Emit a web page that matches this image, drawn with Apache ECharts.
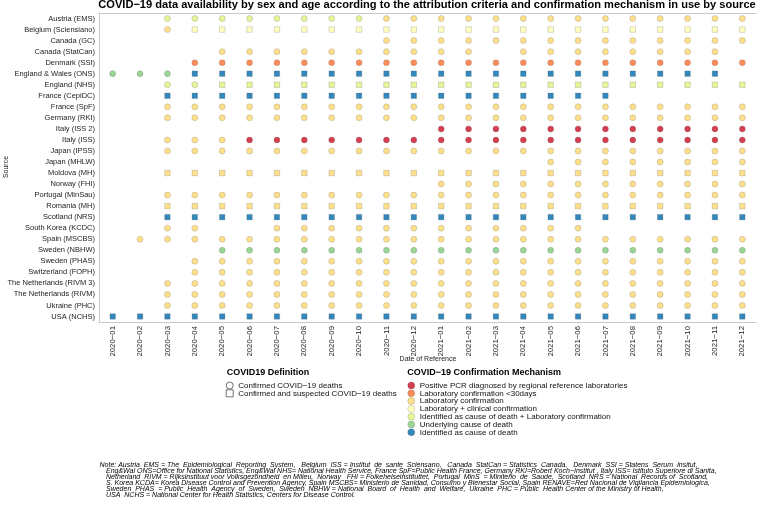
<!DOCTYPE html>
<html><head><meta charset="utf-8">
<script src="https://cdn.jsdelivr.net/npm/echarts@6/dist/echarts.min.js"></script>
<style>html,body{margin:0;padding:0;background:#fff}#c{width:760px;height:505px}</style>
</head><body><div id="c"></div>
<script>
// ---- DATA ----
const months = ['2020-01','2020-02','2020-03','2020-04','2020-05','2020-06','2020-07','2020-08','2020-09','2020-10','2020-11','2020-12',
                '2021-01','2021-02','2021-03','2021-04','2021-05','2021-06','2021-07','2021-08','2021-09','2021-10','2021-11','2021-12'];
const sources = ['Austria (EMS)','Belgium (Sciensiano)','Canada (GC)','Canada (StatCan)','Denmark (SSI)','England & Wales (ONS)',
  'England (NHS)','France (CepiDC)','France (SpF)','Germany (RKI)','Italy (ISS 2)','Italy (ISS)','Japan (IPSS)','Japan (MHLW)',
  'Moldova (MH)','Norway (FHI)','Portugal (MinSau)','Romania (MH)','Scotland (NRS)','South Korea (KCDC)','Spain (MSCBS)',
  'Sweden (NBHW)','Sweden (PHAS)','Switzerland (FOPH)','The Netherlands (RIVM 3)','The Netherlands (RIVM)','Ukraine (PHC)','USA (NCHS)'];
// one character per month: '.' = no data; letter = confirmation mechanism code;
// UPPER case = Confirmed COVID-19 deaths (circle), lower case = Confirmed and suspected (square)
const availability = [
  '..IIIIIIIILLLLLLLLLLLLLL', // Austria (EMS)
  '..Lccccccccccccccccccccc', // Belgium
  '..........LLLLLLLLLLLLLL', // Canada (GC)
  '....LLLLLLLLLL.LLLLLLLL.', // Canada (StatCan)
  '...OOOOOOOOOOOOOOOOOOOOO', // Denmark
  'UUUdddddddddddddddddddd.', // England & Wales
  '..IIiiiiiiiiiiiiiiiiiiii', // England (NHS)
  '..ddddddddddddddddd.....', // France (CepiDC)
  '..LLLLLLLLLLLLLLLLLLLLLL', // France (SpF)
  '..LLLLLLLLLLLLLLLLLLLLLL', // Germany
  '............PPPPPPPPPPPP', // Italy (ISS 2)
  '..LLLPPPPPPPPPPPPPPPPPPP', // Italy (ISS)
  '..LLLLLLLLLLLLLLLLLLLLLL', // Japan (IPSS)
  '................LLLLLLLL', // Japan (MHLW)
  '..llllllllllllllllllllll', // Moldova
  '............LLLLLLLLLLLL', // Norway
  '..LLLLLLLLLLLLLLLLLLLLLL', // Portugal
  '..llllllllllllllllllllll', // Romania
  '..dddddddddddddddddddddd', // Scotland
  '..LL..LLLLLLLLLLLL......', // South Korea
  '.LLLLLLLLLLLLLLLLLLLLLLL', // Spain
  '....UUUUUUUUUUUUUUUUUUUU', // Sweden (NBHW)
  '...LLLLLLLLLLLLLLLLLLLLL', // Sweden (PHAS)
  '...LLLLLLLLLLLLLLLLLLLLL', // Switzerland
  '..LLLLLLLLLLLLLLLLLLLLLL', // Netherlands (RIVM 3)
  '..LLLLLLLLLLLLLLLLLLLLLL', // Netherlands (RIVM)
  '..LLLLLLLLLLLLLLLLLLLLLL', // Ukraine
  'dddddddddddddddddddddddd'  // USA
];
const mechanismCodes = ['P','O','L','C','I','U','D'];
const mechanismNames = ['Positive PCR diagnosed by regional reference laboratories','Laboratory confirmation <30days',
  'Laboratory confirmation','Laboratory + clinical confirmation','Identified as cause of death + Laboratory confirmation',
  'Underlying cause of death','Identified as cause of death'];
const mechanismColors = ['#d53e4f','#fc8d59','#fee08b','#ffffbf','#e6f598','#99d594','#3288bd'];
const definitionNames = ['Confirmed COVID\u221219 deaths','Confirmed and suspected COVID\u221219 deaths'];
const noteLines = [
  'Note: Austria  EMS = The  Epidemiological  Reporting  System,   Belgium  ISS = Institut  de  sante  Sciensano,   Canada  StatCan = Statistics  Canada,   Denmark  SSI = Statens  Serum  Insitut,',
  'Eng&Wal ONS=Office for National Statistics, Eng&Wal NHS= National Health Service, France SpF=Public Health France, Germany RKI=Robert Koch\u2212Institut , Italy ISS= Istituto Superiore di Sanita,',
  'Netherland  RIVM = Rijksinstituut voor Volksgezondheid  en Milieu,  Norway   FHI = Folkehelseinstituttet,  Portugal  MinS  = Miniterio  de  Saude,  Scotland  NRS = National  Records of  Scotland,',
  'S. Korea KCDA= Korea Disease Control and Prevention Agency, Spain MSCBS= Ministerio de Sanidad, Consumo y Bienestar Social, Spain RENAVE=Red Nacional de Vigilancia Epidemiologica,',
  'Sweden  PHAS  = Public  Health  Agency  of  Sweden,  Sweden  NBHW = National  Board  of  Health  and  Welfare,  Ukraine  PHC = Public  Health Center of the Ministry of Health,',
  'USA  NCHS = National Center for Health Statistics, Centers for Disease Control.'
];
const titleText = 'COVID\u221219 data availability by sex and age according to the attribution criteria and confirmation mechanism in use by source';
const xAxisTitle = 'Date of Reference';
const yAxisTitle = 'Source';

// ---- CHART ----
const FONT = '"Liberation Sans", Arial, sans-serif';
const chart = echarts.init(document.getElementById('c'), null, {renderer:'canvas'});
const markBorder = 'rgba(90,90,90,0.45)';
const series = mechanismCodes.map((code, k) => {
  const data = [];
  availability.forEach((row, i) => {
    for (let j = 0; j < row.length; j++) {
      const ch = row[j];
      if (ch === '.') continue;
      if (ch.toUpperCase() !== code) continue;
      const isCircle = ch === code;
      data.push({value: [months[j], sources[i]], symbol: isCircle ? 'circle' : 'rect', symbolSize: isCircle ? 6 : 5.5});
    }
  });
  return {type:'scatter', name: mechanismNames[k], data, xAxisIndex:0, yAxisIndex:0,
    itemStyle:{color: mechanismColors[k], borderColor: markBorder, borderWidth: 0.5, opacity:1},
    emphasis:{disabled:true}, animation:false};
});
definitionNames.forEach(n => series.push({type:'scatter', name:n, data:[], animation:false}));

const axisGrey = '#c8c8c8';
const legendCommon = {orient:'vertical', padding:0, itemGap:-0.2, itemWidth:7, itemHeight:7, top:381.5,
  selectedMode:false, textStyle:{fontSize:8, color:'#111', lineHeight:8, fontFamily:FONT}};
const option = {
  animation:false,
  textStyle:{fontFamily:FONT},
  grid:{left:99, top:13, width:657, height:309, containLabel:false, outerBoundsMode:'none'},
  xAxis:[{type:'category', data:months, position:'bottom',
    axisLine:{lineStyle:{color:axisGrey, width:1}},
    axisTick:{alignWithLabel:true, length:3, lineStyle:{color:axisGrey}},
    axisLabel:{rotate:90, fontSize:7.8, color:'#222', margin:4, fontFamily:FONT, formatter:v=>v.replace('-','\u2212')},
    splitLine:{show:false}},
   {type:'category', data:months, position:'top', axisLine:{lineStyle:{color:axisGrey}}, axisTick:{show:false}, axisLabel:{show:false}}],
  yAxis:{type:'category', data:sources, inverse:true,
    axisLine:{lineStyle:{color:axisGrey, width:1}},
    axisTick:{alignWithLabel:true, length:3, lineStyle:{color:axisGrey}},
    axisLabel:{fontSize:7.5, color:'#222', margin:4, fontFamily:FONT},
    splitLine:{show:false}},
  legend:[
    Object.assign({}, legendCommon, {left:225.8,
      data: definitionNames.map((n,i)=>({name:n, icon: i===0?'circle':'rect',
        itemStyle:{color:'#fff', borderColor:'#222', borderWidth:0.8}}))}),
    Object.assign({}, legendCommon, {left:407.5,
      data: mechanismNames.map((n,k)=>({name:n, icon:'circle',
        itemStyle:{color:mechanismColors[k], borderColor:markBorder, borderWidth:0.5}}))})
  ],
  graphic:[
    {type:'text', x:427, y:5, style:{text:titleText, font:'bold 11.1px '+FONT, fill:'#000', textAlign:'center', textVerticalAlign:'middle'}},
    {type:'text', x:428, y:359, style:{text:xAxisTitle, font:'7px '+FONT, fill:'#222', textAlign:'center', textVerticalAlign:'middle'}},
    {type:'text', x:6, y:167, rotation:Math.PI/2, style:{text:yAxisTitle, font:'7px '+FONT, fill:'#222', textAlign:'center', textVerticalAlign:'middle'}},
    {type:'text', x:226.7, y:372.7, style:{text:'COVID19 Definition', font:'bold 9px '+FONT, fill:'#000', textVerticalAlign:'middle'}},
    {type:'text', x:407.3, y:372.7, style:{text:'COVID\u221219 Confirmation Mechanism', font:'bold 9px '+FONT, fill:'#000', textVerticalAlign:'middle'}}
  ].concat(noteLines.map((t,i)=>({type:'text', x: i===0?99.5:106, y:465+i*6,
      style:{text:t, font:'italic 7px '+FONT, fill:'#000', textVerticalAlign:'middle'}}))),
  series
};
chart.setOption(option);
</script></body></html>
